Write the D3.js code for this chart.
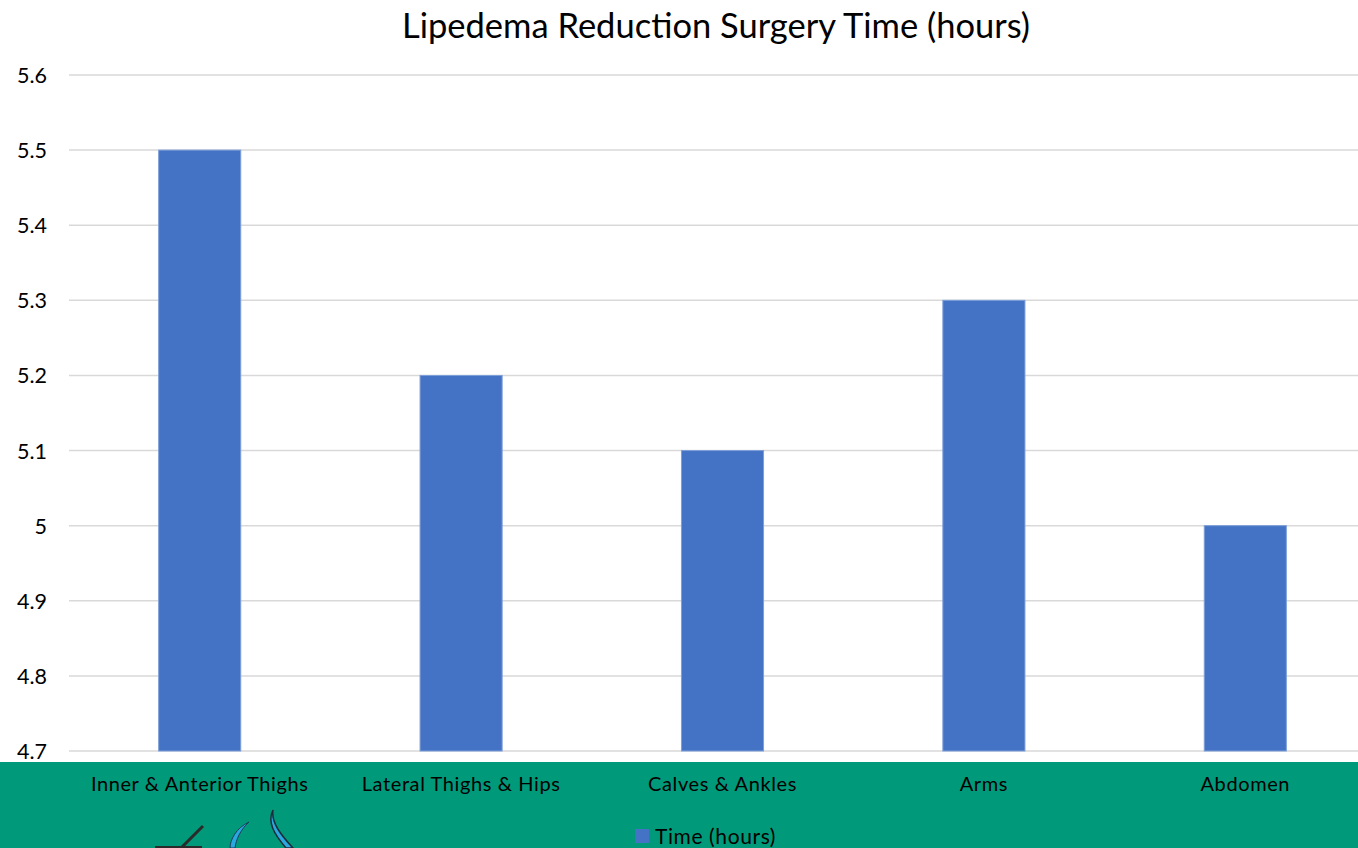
<!DOCTYPE html>
<html><head><meta charset="utf-8">
<script src="https://cdn.jsdelivr.net/npm/d3@7"></script>
<style>body{margin:0;background:#fff;overflow:hidden}svg{display:block}</style>
</head><body><svg id="c" width="1358" height="848"></svg>
<script>
const categories = ["Inner & Anterior Thighs","Lateral Thighs & Hips","Calves & Ankles","Arms","Abdomen"];
const values = [5.5, 5.2, 5.1, 5.3, 5.0];
const yTicks = [4.7,4.8,4.9,5,5.1,5.2,5.3,5.4,5.5,5.6];
const seriesName = "Time (hours)";
const title = "Lipedema Reduction Surgery Time (hours)";

const svg = d3.select("#c");
const W = 1358, H = 848;
const font = "Lato, 'Open Sans', sans-serif";
const x = d3.scaleBand().domain(categories).range([69, 1376]).paddingInner(0.686).paddingOuter(0.343);
const y = d3.scaleLinear().domain([4.7, 5.6]).range([751, 75]);

// gridlines
svg.append("g").selectAll("line").data(yTicks).join("line")
  .attr("x1", 69).attr("x2", W).attr("y1", d => y(d)).attr("y2", d => y(d))
  .attr("stroke", "#d9d9d9").attr("stroke-width", 1.5);

// y axis labels
const yAxis = d3.axisLeft(y).tickValues(yTicks).tickSize(0).tickPadding(0).tickFormat(d => String(+d.toFixed(1)));
const ya = svg.append("g").attr("transform", "translate(47,0)").call(yAxis);
ya.select(".domain").remove();
ya.selectAll("text").attr("font-family", font).attr("font-size", 21.5).attr("fill", "#000").attr("dy", "0.35em");

// bars
svg.append("g").selectAll("rect").data(categories).join("rect")
  .attr("x", d => x(d)).attr("width", x.bandwidth())
  .attr("y", (d,i) => y(values[i])).attr("height", (d,i) => y(4.7) - y(values[i]))
  .attr("fill", "#4472c4").attr("stroke", "#7d9fd8").attr("stroke-width", 1);

// green band
svg.append("rect").attr("x", 0).attr("y", 762).attr("width", W).attr("height", H-762).attr("fill", "#009a7a");

// category labels
const xa = svg.append("g").attr("transform", "translate(0,784)").call(d3.axisBottom(x).tickSize(0).tickPadding(0));
xa.select(".domain").remove();
xa.selectAll("text").attr("font-family", font).attr("font-size", 20).attr("fill", "#000").attr("dy", "0.35em")
  .attr("letter-spacing", "0.6px");

// legend
svg.append("rect").attr("x", 635).attr("y", 829).attr("width", 14).attr("height", 14).attr("fill", "#4472c4");
svg.append("text").attr("x", 655).attr("y", 844).text(seriesName)
  .attr("font-family", font).attr("font-size", 21).attr("fill", "#000").attr("letter-spacing", "0.6px");

// title
svg.append("text").attr("x", 716).attr("y", 38).attr("text-anchor", "middle").text(title)
  .attr("font-family", font).attr("font-size", 34.5).attr("fill", "#000");

// partial logo (decorative)
const logo = svg.append("g");
logo.append("path").attr("d", "M180,849 L203,826").attr("stroke", "#2a2a2a").attr("stroke-width", 3).attr("fill", "none");
logo.append("path").attr("d", "M155,847 L202,847").attr("stroke", "#2a2a2a").attr("stroke-width", 2).attr("fill", "none");
logo.append("path").attr("d", "M249,822 C236,828 230,840 230,848 L235,848 C236,840 240,830 249,822 Z").attr("fill", "#29a8e0").attr("stroke", "#1d3b5a").attr("stroke-width", 1);
logo.append("path").attr("d", "M273,810 C267,822 274,834 286,848 L293,848 C280,834 271,822 273,810 Z").attr("fill", "#29a8e0").attr("stroke", "#1d2b3a").attr("stroke-width", 1.5);
</script></body></html>
